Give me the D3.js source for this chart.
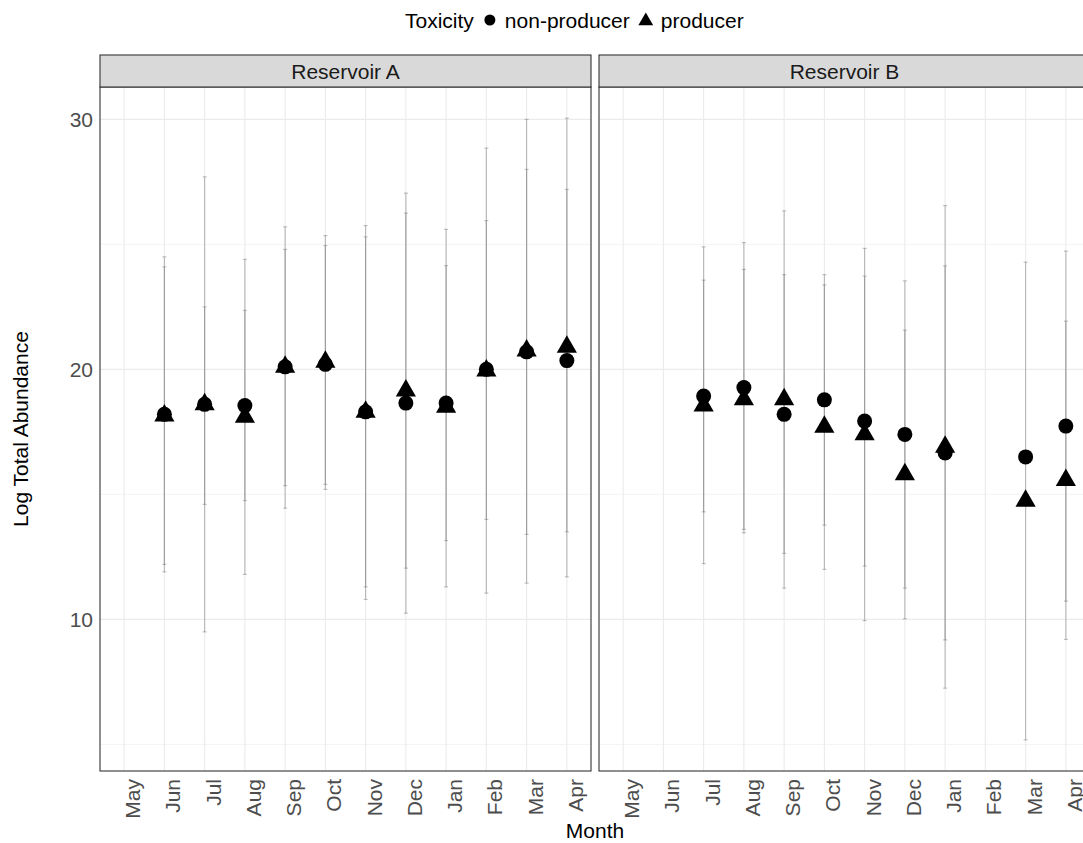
<!DOCTYPE html>
<html>
<head>
<meta charset="utf-8">
<script src="https://cdn.jsdelivr.net/npm/d3@7"></script>
<style>
  html, body { margin: 0; padding: 0; background: #fff; overflow: hidden; }
  svg { display: block; font-family: "Liberation Sans", Arial, sans-serif; }
</style>
</head>
<body>
<svg id="chart" width="1083" height="843"></svg>
<script>
// ---------------- data ----------------
const months = ["May","Jun","Jul","Aug","Sep","Oct","Nov","Dec","Jan","Feb","Mar","Apr"];
const reservoirs = ["Reservoir A","Reservoir B"];
const toxicity = ["non-producer","producer"];
const yTicks = [10, 20, 30];
const yMinorTicks = [5, 15, 25];

// Reservoir A
const aNonMean = [null, 18.2, 18.6, 18.55, 20.1, 20.2, 18.3, 18.65, 18.65, 20.0, 20.7, 20.35];
const aNonLo   = [null, 11.9, 14.6, 14.75, 15.35, 15.4, 11.3, 10.25, 13.15, 14.0, 13.4, 13.5];
const aNonHi   = [null, 24.5, 22.5, 22.36, 24.8, 24.95, 25.3, 27.05, 24.15, 25.95, 28.0, 27.2];
const aProMean = [null, 18.15, 18.6, 18.1, 20.1, 20.3, 18.3, 19.15, 18.5, 19.95, 20.75, 20.9];
const aProLo   = [null, 12.2, 9.5, 11.8, 14.45, 15.2, 10.8, 12.05, 11.3, 11.05, 11.45, 11.7];
const aProHi   = [null, 24.1, 27.7, 24.4, 25.7, 25.35, 25.75, 26.25, 25.6, 28.85, 30.0, 30.05];

// Reservoir B
const bNonMean = [null, null, 18.93, 19.27, 18.2, 18.78, 17.93, 17.4, 16.66, null, 16.5, 17.73];
const bNonLo   = [null, null, 14.3, 13.46, 12.64, 13.77, 12.13, 11.25, 9.18, null, null, 10.73];
const bNonHi   = [null, null, 23.57, 25.07, 23.79, 23.79, 23.73, 23.54, 24.14, null, null, 24.73];
const bProMean = [null, null, 18.55, 18.8, 18.8, 17.7, 17.4, 15.8, 16.9, null, 14.74, 15.57];
const bProLo   = [null, null, 12.23, 13.6, 11.25, 12.0, 9.95, 10.02, 7.25, null, 5.18, 9.2];
const bProHi   = [null, null, 24.9, 24.0, 26.34, 23.38, 24.84, 21.57, 26.55, null, 24.29, 21.93];

// ---------------- build records ----------------
const seriesTable = [
  {res: 0, tox: 0, mean: aNonMean, lo: aNonLo, hi: aNonHi},
  {res: 0, tox: 1, mean: aProMean, lo: aProLo, hi: aProHi},
  {res: 1, tox: 0, mean: bNonMean, lo: bNonLo, hi: bNonHi},
  {res: 1, tox: 1, mean: bProMean, lo: bProLo, hi: bProHi}
];
const records = [];
seriesTable.forEach(s => {
  months.forEach((m, i) => {
    records.push({res: s.res, tox: s.tox, month: m, mean: s.mean[i], lo: s.lo[i], hi: s.hi[i]});
  });
});

// ---------------- layout ----------------
const svg = d3.select("#chart");
const panelTop = 87, panelBottom = 771;
const stripTop = 55;
const panels = [{x0: 100, x1: 591}, {x0: 599, x1: 1090}];

const allLo = d3.min(records, d => d.lo == null ? (d.mean == null ? Infinity : d.mean) : d.lo);
const allHi = d3.max(records, d => d.hi == null ? (d.mean == null ? -Infinity : d.mean) : d.hi);
const pad = (allHi - allLo) * 0.05;
const y = d3.scaleLinear().domain([allLo - pad, allHi + pad]).range([panelBottom, panelTop]);

const gridCol = "#EBEBEB";
const borderCol = "#333333";

function triPath(cx, cy, R) {
  const r = 1.5551 * R, xc = 1.3468 * R, yc = 0.7776 * R;
  return `M${cx},${cy - r}L${cx + xc},${cy + yc}L${cx - xc},${cy + yc}Z`;
}

panels.forEach((p, pi) => {
  const x = d3.scalePoint().domain(months).range([p.x0, p.x1]).padding(0.6);
  const g = svg.append("g");

  g.append("rect").attr("x", p.x0).attr("y", panelTop).attr("width", p.x1 - p.x0)
    .attr("height", panelBottom - panelTop).attr("fill", "#fff");

  g.selectAll(".ymin").data(yMinorTicks).join("line")
    .attr("x1", p.x0).attr("x2", p.x1)
    .attr("y1", d => y(d)).attr("y2", d => y(d))
    .attr("stroke", gridCol).attr("stroke-width", 0.6);
  g.selectAll(".ymaj").data(yTicks).join("line")
    .attr("x1", p.x0).attr("x2", p.x1)
    .attr("y1", d => y(d)).attr("y2", d => y(d))
    .attr("stroke", gridCol).attr("stroke-width", 1.1);
  g.selectAll(".xmaj").data(months).join("line")
    .attr("x1", d => x(d)).attr("x2", d => x(d))
    .attr("y1", panelTop).attr("y2", panelBottom)
    .attr("stroke", gridCol).attr("stroke-width", 1.1);

  const recs = records.filter(r => r.res === pi);

  const eb = recs.filter(r => r.lo != null && r.hi != null);
  const ebG = g.append("g").attr("stroke", "#808080").attr("stroke-opacity", 0.5).attr("stroke-width", 1.1);
  ebG.selectAll(".v").data(eb).join("line")
    .attr("x1", d => x(d.month)).attr("x2", d => x(d.month))
    .attr("y1", d => y(d.lo)).attr("y2", d => y(d.hi));
  ebG.selectAll(".ct").data(eb).join("line")
    .attr("x1", d => x(d.month) - 2).attr("x2", d => x(d.month) + 2)
    .attr("y1", d => y(d.hi)).attr("y2", d => y(d.hi));
  ebG.selectAll(".cb").data(eb).join("line")
    .attr("x1", d => x(d.month) - 2).attr("x2", d => x(d.month) + 2)
    .attr("y1", d => y(d.lo)).attr("y2", d => y(d.lo));

  const pts = recs.filter(r => r.mean != null);
  const R = 7.5;
  g.selectAll(".c").data(pts.filter(d => d.tox === 0)).join("circle")
    .attr("cx", d => x(d.month)).attr("cy", d => y(d.mean)).attr("r", R).attr("fill", "#000");
  g.selectAll(".t").data(pts.filter(d => d.tox === 1)).join("path")
    .attr("d", d => triPath(x(d.month), y(d.mean), R)).attr("fill", "#000");

  g.append("rect").attr("x", p.x0).attr("y", panelTop).attr("width", p.x1 - p.x0)
    .attr("height", panelBottom - panelTop).attr("fill", "none")
    .attr("stroke", borderCol).attr("stroke-width", 1.1);

  g.append("rect").attr("x", p.x0).attr("y", stripTop).attr("width", p.x1 - p.x0)
    .attr("height", panelTop - stripTop).attr("fill", "#D9D9D9")
    .attr("stroke", borderCol).attr("stroke-width", 1.1);
  g.append("text").attr("x", (p.x0 + p.x1) / 2).attr("y", (stripTop + panelTop) / 2)
    .attr("dy", "0.36em").attr("text-anchor", "middle")
    .attr("font-size", 21).attr("fill", "#1A1A1A").text(reservoirs[pi]);

  g.selectAll(".xl").data(months).join("text")
    .attr("transform", d => `translate(${x(d) + 16},779) rotate(-90)`)
    .attr("text-anchor", "end").attr("font-size", 21).attr("fill", "#4D4D4D")
    .text(d => d);

  if (pi === 0) {
    g.selectAll(".yl").data(yTicks).join("text")
      .attr("x", p.x0 - 7).attr("y", d => y(d)).attr("dy", "0.36em")
      .attr("text-anchor", "end").attr("font-size", 21).attr("fill", "#4D4D4D")
      .text(d => d);
  }
});

svg.append("text").attr("x", (panels[0].x0 + panels[1].x1) / 2).attr("y", 838)
  .attr("text-anchor", "middle").attr("font-size", 21).attr("fill", "#000").text("Month");
svg.append("text").attr("transform", `translate(28,${(panelTop + panelBottom) / 2}) rotate(-90)`)
  .attr("text-anchor", "middle").attr("font-size", 21).attr("fill", "#000").text("Log Total Abundance");

// legend (laid out from measured text widths)
const lg = svg.append("g");
const ly = 20;
let cursor = 405;
const title = lg.append("text").attr("x", cursor).attr("y", ly).attr("dy", "0.36em")
  .attr("font-size", 21).attr("fill", "#000").text("Toxicity");
cursor += title.node().getComputedTextLength();
toxicity.forEach((t, i) => {
  const kx = cursor + 16;
  if (i === 0) {
    lg.append("circle").attr("cx", kx).attr("cy", ly).attr("r", 5.5).attr("fill", "#000");
  } else {
    lg.append("path").attr("d", triPath(kx, ly + 1, 5.5)).attr("fill", "#000");
  }
  const tx = lg.append("text").attr("x", kx + 15).attr("y", ly).attr("dy", "0.36em")
    .attr("font-size", 21).attr("fill", "#000").text(t);
  cursor = kx + 15 + tx.node().getComputedTextLength();
});
</script>
</body>
</html>
